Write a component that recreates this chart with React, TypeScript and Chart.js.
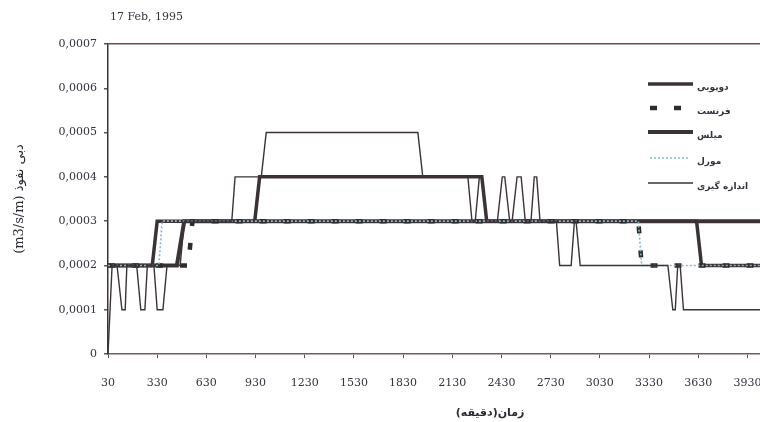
import React, { useEffect, useRef } from 'react';
import { Chart, registerables } from 'chart.js';

Chart.register(...registerables);

// ---------- text ----------
const CHART_DATE = '17 Feb, 1995';
const Y_TITLE = '(m3/s/m) دبی نفوذ';
const X_TITLE = '\u202Bزمان(دقیقه)\u202C';
const SERIES_NAMES = ['دوپویی', 'فرنست', 'میلس', 'مورل', 'اندازه گیری'];

// ---------- axes ----------
const X_TICKS = [30, 330, 630, 930, 1230, 1530, 1830, 2130, 2430, 2730, 3030, 3330, 3630, 3930, 4230, 4530];
const Y_TICKS = [0, 0.0001, 0.0002, 0.0003, 0.0004, 0.0005, 0.0006, 0.0007];
const X_MIN = 30;
const X_MAX = 4690;

// ---------- series (time in minutes, infiltration in m3/s/m) ----------
const dupuitTime = [30, 300, 330, 925, 955, 2310, 2340, 3620, 3650, 4700];
const dupuitValue = [0.0002, 0.0002, 0.0003, 0.0003, 0.0004, 0.0004, 0.0003, 0.0003, 0.0002, 0.0002];

const frenetTime = [30, 520, 545, 3265, 3285, 4700];
const frenetValue = [0.0002, 0.0002, 0.0003, 0.0003, 0.0002, 0.0002];

const millsTime = [30, 450, 495, 4700];
const millsValue = [0.0002, 0.0002, 0.0003, 0.0003];

const morelTime = [30, 340, 360, 3265, 3285, 4700];
const morelValue = [0.0002, 0.0002, 0.0003, 0.0003, 0.0002, 0.0002];

const measuredTime = [30, 55, 85, 115, 135, 145, 205, 230, 255, 270, 310, 330, 365, 390, 470,
  495, 785, 805, 965, 995, 1920, 1950, 2225, 2250, 2270, 2295, 2310, 2340, 2405, 2435,
  2450, 2480, 2495, 2525, 2550, 2575, 2610, 2630, 2645, 2665, 2765, 2785, 2855, 2875,
  2885, 2910, 3445, 3475, 3490, 3505, 3520, 3540, 4700];
const measuredValue = [0, 0.0002, 0.0002, 0.0001, 0.0001, 0.0002, 0.0002, 0.0001, 0.0001, 0.0002,
  0.0002, 0.0001, 0.0001, 0.0002, 0.0002, 0.0003, 0.0003, 0.0004, 0.0004, 0.0005,
  0.0005, 0.0004, 0.0004, 0.0003, 0.0003, 0.0004, 0.0004, 0.0003, 0.0003, 0.0004,
  0.0004, 0.0003, 0.0003, 0.0004, 0.0004, 0.0003, 0.0003, 0.0004, 0.0004, 0.0003,
  0.0003, 0.0002, 0.0002, 0.0003, 0.0003, 0.0002, 0.0002, 0.0001, 0.0001, 0.0002,
  0.0002, 0.0001, 0.0001];

// ---------- styles ----------
const INK = '#3a3236';
const TEXT = '#34323e';
const CANVAS_W = 890;
const CANVAS_H = 422;
const PLOT_RIGHT = 872;
const SERIF = '"DejaVu Serif", "Liberation Serif", serif';

const STYLES = [
  { color: INK, width: 3.5, dash: [] as number[] },
  { color: '#2f2a2e', width: 4.5, dash: [7, 17] },
  { color: INK, width: 4, dash: [] as number[] },
  { color: '#86b9c6', width: 1.6, dash: [2, 2] },
  { color: '#3b3338', width: 1.4, dash: [] as number[] },
];

const pts = (t: number[], v: number[]) => t.map((x, i) => ({ x, y: v[i] }));

const overlayPlugin = {
  id: 'overlay',
  afterDraw(chart: any) {
    const ctx = chart.ctx as CanvasRenderingContext2D;
    ctx.save();
    ctx.fillStyle = TEXT;
    ctx.textBaseline = 'middle';
    ctx.textAlign = 'left';
    ctx.font = `11px ${SERIF}`;
    ctx.fillText(CHART_DATE, 110, 17);

    const rows = [84, 108, 132, 158, 183];
    for (let i = 0; i < SERIES_NAMES.length; i++) {
      const st = STYLES[i];
      const y = rows[i];
      ctx.save();
      ctx.strokeStyle = st.color;
      ctx.lineWidth = st.width;
      ctx.setLineDash(st.dash);
      ctx.beginPath();
      if (i === 1) {
        ctx.moveTo(650, y);
        ctx.lineTo(681, y);
      } else if (i === 3) {
        ctx.moveTo(650, y);
        ctx.lineTo(689, y);
      } else {
        ctx.moveTo(648, y);
        ctx.lineTo(693, y);
      }
      ctx.stroke();
      ctx.restore();
      ctx.fillStyle = TEXT;
      ctx.font = 'bold 9px "DejaVu Sans", sans-serif';
      ctx.fillText(SERIES_NAMES[i], 697, y + 4);
    }
    ctx.restore();
  },
};

export default function App() {
  const ref = useRef<HTMLCanvasElement>(null);

  useEffect(() => {
    const canvas = ref.current;
    if (!canvas) return;
    const series = [
      { t: dupuitTime, v: dupuitValue },
      { t: frenetTime, v: frenetValue },
      { t: millsTime, v: millsValue },
      { t: morelTime, v: morelValue },
      { t: measuredTime, v: measuredValue },
    ];
    const datasets = series.map((s, i) => ({
      label: SERIES_NAMES[i],
      data: pts(s.t, s.v),
      borderColor: STYLES[i].color,
      borderWidth: STYLES[i].width,
      borderDash: STYLES[i].dash,
      pointRadius: 0,
      tension: 0,
      fill: false,
      order: [3, 2, 4, 1, 0][i],
    }));

    const chart = new Chart(canvas, {
      type: 'line',
      data: { datasets },
      options: {
        responsive: false,
        animation: false,
        devicePixelRatio: 1,
        layout: { padding: { top: 44, right: CANVAS_W - PLOT_RIGHT, bottom: 0, left: 0 } },
        plugins: {
          legend: { display: false },
          tooltip: { enabled: false },
          title: { display: false },
        },
        scales: {
          x: {
            type: 'linear',
            min: X_MIN,
            max: X_MAX,
            afterBuildTicks: (s: any) => {
              s.ticks = X_TICKS.map((v) => ({ value: v }));
            },
            afterFit: (s: any) => {
              s.height = 68;
            },
            ticks: {
              color: TEXT,
              padding: 19,
              maxRotation: 0,
              autoSkip: false,
              font: { family: SERIF, size: 11 },
              callback: (v: any) => String(v),
            },
            grid: { drawOnChartArea: false, tickLength: 4, tickColor: '#555', color: '#555' },
            border: { color: '#7b5860', width: 1.5 },
            title: {
              display: true,
              text: X_TITLE,
              color: '#2a2830',
              padding: { top: 0, bottom: 2 },
              font: { family: '"DejaVu Sans", sans-serif', size: 11, weight: 'bold' },
            },
          },
          y: {
            min: 0,
            max: 0.0007,
            afterBuildTicks: (s: any) => {
              s.ticks = Y_TICKS.map((v) => ({ value: v }));
            },
            afterFit: (s: any) => {
              s.width = 108;
            },
            ticks: {
              color: TEXT,
              padding: 7,
              font: { family: SERIF, size: 11 },
              callback: (v: any) => (Number(v) === 0 ? '0' : Number(v).toFixed(4).replace('.', ',')),
            },
            grid: {
              tickLength: 4,
              tickColor: '#555',
              lineWidth: 1.5,
              color: (c: any) =>
                c.tick && Math.abs(c.tick.value - 0.0007) < 1e-9 ? '#6e4a50' : 'rgba(0,0,0,0)',
            },
            border: { color: '#3a3438', width: 1.5 },
            title: {
              display: true,
              text: Y_TITLE,
              color: '#2a2830',
              padding: { top: 12, bottom: 0 },
              font: { family: '"DejaVu Serif", "DejaVu Sans", serif', size: 13 },
            },
          },
        },
      },
      plugins: [overlayPlugin],
    } as any);

    return () => chart.destroy();
  }, []);

  return (
    <div
      style={{
        position: 'fixed',
        left: 0,
        top: 0,
        width: 760,
        height: 422,
        overflow: 'hidden',
        background: '#ffffff',
      }}
    >
      <canvas ref={ref} width={CANVAS_W} height={CANVAS_H} style={{ display: 'block' }} />
    </div>
  );
}
